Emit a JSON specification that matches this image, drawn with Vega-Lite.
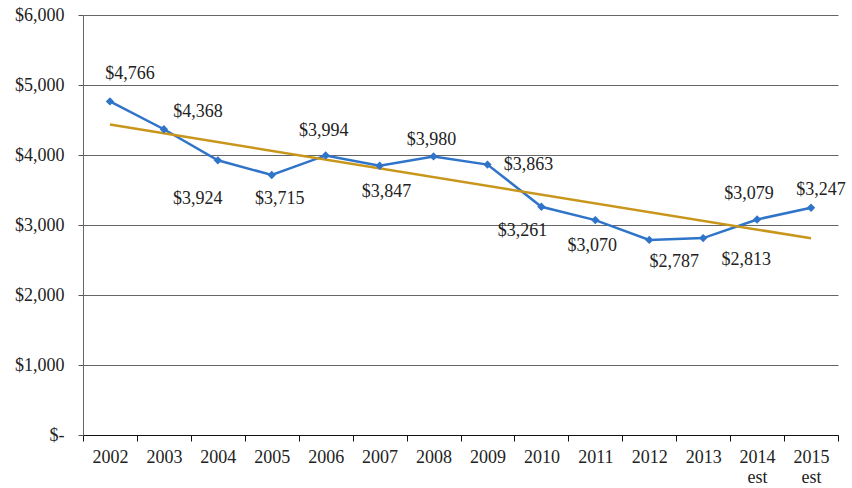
{
  "$schema": "https://vega.github.io/schema/vega-lite/v6.json",
  "autosize": "none",
  "width": 755,
  "height": 420,
  "padding": {"left": 83, "top": 15, "right": 14, "bottom": 53},
  "background": "white",
  "config": {
    "font": "Liberation Serif, serif",
    "view": {"stroke": null},
    "text": {"font": "Liberation Serif, serif"},
    "axis": {"labelFont": "Liberation Serif, serif", "labelFontSize": 18, "labelColor": "#222", "title": null}
  },
  "datasets": {
    "cost": [
      {"i": 0, "year": "2002", "cost": 4766},
      {"i": 1, "year": "2003", "cost": 4368},
      {"i": 2, "year": "2004", "cost": 3924},
      {"i": 3, "year": "2005", "cost": 3715},
      {"i": 4, "year": "2006", "cost": 3994},
      {"i": 5, "year": "2007", "cost": 3847},
      {"i": 6, "year": "2008", "cost": 3980},
      {"i": 7, "year": "2009", "cost": 3863},
      {"i": 8, "year": "2010", "cost": 3261},
      {"i": 9, "year": "2011", "cost": 3070},
      {"i": 10, "year": "2012", "cost": 2787},
      {"i": 11, "year": "2013", "cost": 2813},
      {"i": 12, "year": "2014 est", "cost": 3079},
      {"i": 13, "year": "2015 est", "cost": 3247}
    ]
  },
  "data": {"name": "cost"},
  "encoding": {
    "x": {
      "field": "year", "type": "ordinal", "sort": null,
      "scale": {"paddingInner": 0, "paddingOuter": 0},
      "axis": {
        "labelAngle": 0, "labelExpr": "split(datum.label, ' ')", "labelLineHeight": 20,
        "labelPadding": 7, "labelBaseline": "top",
        "tickBand": "extent", "tickSize": 6, "tickColor": "#111", "domainColor": "#111",
        "grid": false
      }
    },
    "y": {
      "field": "cost", "type": "quantitative",
      "scale": {"domain": [0, 6000], "nice": false},
      "axis": {
        "values": [0, 1000, 2000, 3000, 4000, 5000, 6000],
        "labelExpr": "datum.value == 0 ? '$-  ' : format(datum.value, '$,')",
        "labelPadding": 14, "tickSize": 5, "tickColor": "#555", "domainColor": "#666",
        "grid": true, "gridColor": "#666", "gridWidth": 1
      }
    }
  },
  "layer": [
    {
      "mark": {"type": "line", "color": "#2f74c9", "strokeWidth": 2.5}
    },
    {
      "transform": [
        {"regression": "cost", "on": "i"},
        {"lookup": "i", "from": {"data": {"name": "cost"}, "key": "i", "fields": ["year"]}}
      ],
      "mark": {"type": "line", "color": "#c9961c", "strokeWidth": 2.5}
    },
    {
      "mark": {"type": "point", "shape": "diamond", "filled": true, "size": 70, "color": "#2f74c9", "opacity": 1}
    },
    {"transform": [{"filter": {"field": "year", "equal": "2002"}}],
     "mark": {"type": "text", "fontSize": 18, "color": "#222", "dx": 20, "dy": -27},
     "encoding": {"text": {"field": "cost", "format": "$,"}}},
    {"transform": [{"filter": {"field": "year", "equal": "2003"}}],
     "mark": {"type": "text", "fontSize": 18, "color": "#222", "dx": 34, "dy": -17},
     "encoding": {"text": {"field": "cost", "format": "$,"}}},
    {"transform": [{"filter": {"field": "year", "equal": "2004"}}],
     "mark": {"type": "text", "fontSize": 18, "color": "#222", "dx": -20, "dy": 39},
     "encoding": {"text": {"field": "cost", "format": "$,"}}},
    {"transform": [{"filter": {"field": "year", "equal": "2005"}}],
     "mark": {"type": "text", "fontSize": 18, "color": "#222", "dx": 8, "dy": 24},
     "encoding": {"text": {"field": "cost", "format": "$,"}}},
    {"transform": [{"filter": {"field": "year", "equal": "2006"}}],
     "mark": {"type": "text", "fontSize": 18, "color": "#222", "dx": -2, "dy": -24},
     "encoding": {"text": {"field": "cost", "format": "$,"}}},
    {"transform": [{"filter": {"field": "year", "equal": "2007"}}],
     "mark": {"type": "text", "fontSize": 18, "color": "#222", "dx": 7, "dy": 26},
     "encoding": {"text": {"field": "cost", "format": "$,"}}},
    {"transform": [{"filter": {"field": "year", "equal": "2008"}}],
     "mark": {"type": "text", "fontSize": 18, "color": "#222", "dx": -2, "dy": -16},
     "encoding": {"text": {"field": "cost", "format": "$,"}}},
    {"transform": [{"filter": {"field": "year", "equal": "2009"}}],
     "mark": {"type": "text", "fontSize": 18, "color": "#222", "dx": 41, "dy": 0},
     "encoding": {"text": {"field": "cost", "format": "$,"}}},
    {"transform": [{"filter": {"field": "year", "equal": "2010"}}],
     "mark": {"type": "text", "fontSize": 18, "color": "#222", "dx": -19, "dy": 24},
     "encoding": {"text": {"field": "cost", "format": "$,"}}},
    {"transform": [{"filter": {"field": "year", "equal": "2011"}}],
     "mark": {"type": "text", "fontSize": 18, "color": "#222", "dx": -3, "dy": 26},
     "encoding": {"text": {"field": "cost", "format": "$,"}}},
    {"transform": [{"filter": {"field": "year", "equal": "2012"}}],
     "mark": {"type": "text", "fontSize": 18, "color": "#222", "dx": 25, "dy": 22},
     "encoding": {"text": {"field": "cost", "format": "$,"}}},
    {"transform": [{"filter": {"field": "year", "equal": "2013"}}],
     "mark": {"type": "text", "fontSize": 18, "color": "#222", "dx": 43, "dy": 22},
     "encoding": {"text": {"field": "cost", "format": "$,"}}},
    {"transform": [{"filter": {"field": "year", "equal": "2014 est"}}],
     "mark": {"type": "text", "fontSize": 18, "color": "#222", "dx": -8, "dy": -25},
     "encoding": {"text": {"field": "cost", "format": "$,"}}},
    {"transform": [{"filter": {"field": "year", "equal": "2015 est"}}],
     "mark": {"type": "text", "fontSize": 18, "color": "#222", "dx": 10, "dy": -18},
     "encoding": {"text": {"field": "cost", "format": "$,"}}}
  ]
}
